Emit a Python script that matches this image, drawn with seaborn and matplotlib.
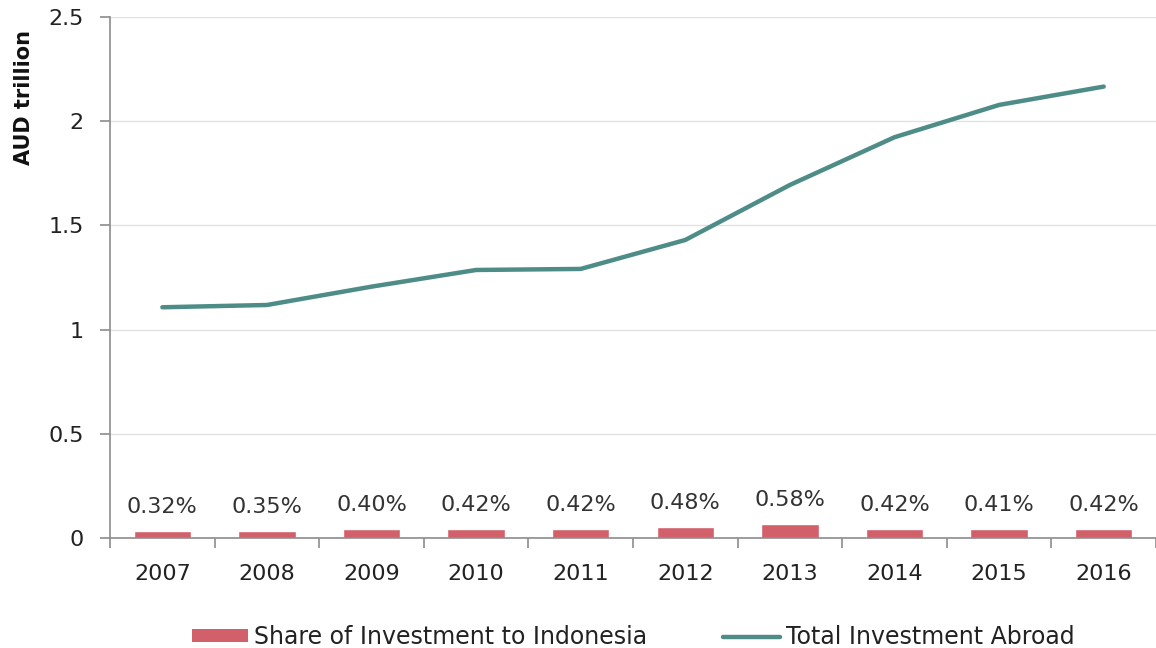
import numpy as np
import matplotlib
matplotlib.use("Agg")
import matplotlib.pyplot as plt
import seaborn as sns
from matplotlib.patches import Patch
from matplotlib.lines import Line2D

# data
years = ["2007", "2008", "2009", "2010", "2011", "2012", "2013", "2014", "2015", "2016"]
total_abroad = [1.107, 1.118, 1.206, 1.286, 1.291, 1.43, 1.694, 1.923, 2.078, 2.166]
indonesia_bar = [0.034, 0.034, 0.044, 0.044, 0.044, 0.054, 0.065, 0.043, 0.043, 0.043]
share_labels = ["0.32%", "0.35%", "0.40%", "0.42%", "0.42%", "0.48%", "0.58%", "0.42%", "0.41%", "0.42%"]

bar_color = "#D2606B"
line_color = "#4E8D87"

sns.set_style("white")
plt.rcParams['font.family'] = ['DejaVu Sans']

fig = plt.figure(figsize=(11.56, 6.48), dpi=100)
ax = fig.add_axes([0.0952, 0.1698, 0.9048, 0.804])

sns.barplot(x=years, y=indonesia_bar, color=bar_color, width=0.55,
            saturation=1, ax=ax, zorder=2)
sns.lineplot(x=np.arange(len(years)), y=total_abroad, color=line_color,
             linewidth=3.2, ax=ax, zorder=3)

# percentage labels above the bars
for i, (h, lab) in enumerate(zip(indonesia_bar, share_labels)):
    ax.annotate(lab, (i, h), xytext=(0, 13), textcoords="offset points",
                ha="center", va="baseline", fontsize=16, color="#333333")

ax.set_xlim(-0.5, len(years) - 0.5)
ax.set_ylim(0, 2.5)
ax.set_yticks([0, 0.5, 1, 1.5, 2, 2.5])
ax.set_yticklabels(["0", "0.5", "1", "1.5", "2", "2.5"])
ax.yaxis.grid(True, color="#E2E2E2", linewidth=1)
ax.set_axisbelow(True)

# tick marks between the categories on the x axis
ax.set_xticks(np.arange(-0.5, len(years), 1), minor=True)
ax.tick_params(axis="x", which="major", bottom=True, length=0, pad=19,
               labelsize=16, labelcolor="#222222")
ax.tick_params(axis="x", which="minor", bottom=True, length=7, width=1.2,
               color="#8C8C8C", direction="out")
ax.tick_params(axis="y", left=True, length=7, width=1.2, color="#8C8C8C",
               labelsize=16, labelcolor="#222222", pad=12)

for side in ["top", "right"]:
    ax.spines[side].set_visible(False)
for side in ["left", "bottom"]:
    ax.spines[side].set_color("#8C8C8C")
    ax.spines[side].set_linewidth(1.2)

ax.set_xlabel("")
ax.set_ylabel("AUD trillion", fontsize=15, fontweight="bold", color="#111111")
ax.yaxis.set_label_coords(-0.073, 0.846)

handles = [Patch(facecolor=bar_color, edgecolor="none"),
           Line2D([0], [0], color=line_color, linewidth=3.2)]
ax.legend(handles, ["Share of Investment to Indonesia", "Total Investment Abroad"],
          loc="center", bbox_to_anchor=(0.5, -0.19), ncol=2, frameon=False,
          fontsize=17, handlelength=2.4, handleheight=0.45, columnspacing=3.2,
          handletextpad=0.25, labelcolor="#222222")

fig.savefig("out.png", dpi=100)
